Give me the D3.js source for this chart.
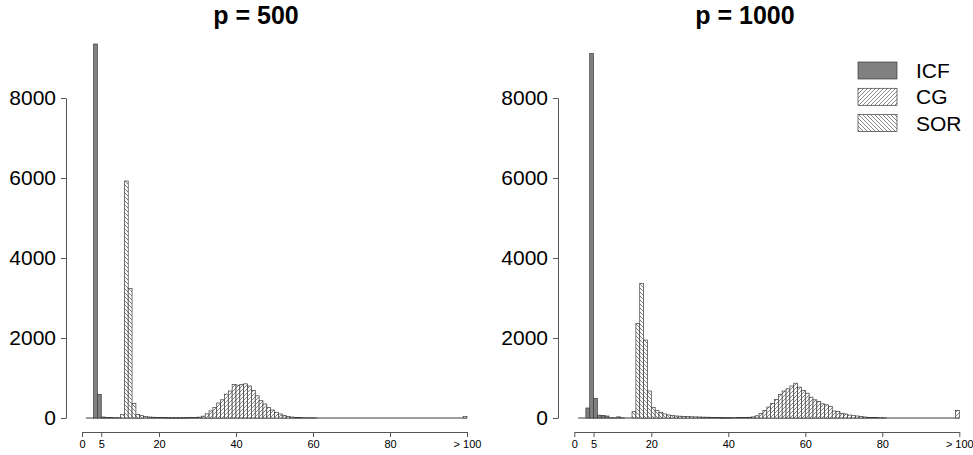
<!DOCTYPE html>
<html><head><meta charset="utf-8">
<script src="https://cdn.jsdelivr.net/npm/d3@7"></script>
<style>body{margin:0;background:#fff;}svg{display:block;font-family:"Liberation Sans",Arial,sans-serif;}</style>
</head><body>
<svg id="chart" width="973" height="455"></svg>
<script>
// ---- data (counts per iteration bin [k, k+1]) ----
const panelTitles = ["p = 500", "p = 1000"];
const seriesNames = ["ICF", "CG", "SOR"];
const xTickValues = [0, 5, 20, 40, 60, 80, 100];
const xTickLabels = ["0", "5", "20", "40", "60", "80", "> 100"];
const yTickValues = [0, 2000, 4000, 6000, 8000];

const icf500Start = 3;
const icf500 = [9350, 592, 25, 15, 10, 6, 4];
const sor500Start = 10;
const sor500 = [83, 5925, 3242, 367, 92, 58, 35, 25, 20, 15, 12, 10, 8, 6, 5, 4, 3];
const cg500Start = 22;
const cg500 = [4, 5, 6, 7, 8, 10, 12, 15, 22, 46, 104, 178, 265, 375, 455, 596, 675, 837, 820, 837, 854, 800, 687, 555, 433, 350, 267, 200, 142, 100, 67, 42, 25, 15, 10, 7, 5, 4, 3];
const over500 = 40;

const icf1000Start = 3;
const icf1000 = [250, 9110, 490, 70, 65, 50, 5, 3, 28, 4];
const sor1000Start = 15;
const sor1000 = [158, 2367, 3367, 1950, 675, 267, 183, 142, 100, 75, 60, 50, 45, 40, 35, 30, 28, 25, 22, 20, 18, 15, 12, 10, 8, 6];
const cg1000Start = 38;
const cg1000 = [5, 6, 7, 8, 9, 10, 12, 18, 28, 55, 112, 188, 275, 365, 460, 590, 675, 730, 800, 870, 770, 690, 620, 520, 455, 415, 355, 330, 285, 175, 165, 118, 100, 75, 58, 50, 35, 25, 15, 12, 10, 6, 4];
const over1000 = 190;
const overBin = 99;

// ---- drawing ----
const svg = d3.select("#chart");
const defs = svg.append("defs");
function hatch(id, dir) {
  const p = defs.append("pattern").attr("id", id).attr("patternUnits", "userSpaceOnUse")
    .attr("width", 4).attr("height", 4);
  p.append("rect").attr("width", 4).attr("height", 4).attr("fill", "#fff");
  const segs = dir === "/" ? [[0,4,4,0],[-1,1,1,-1],[3,5,5,3]] : [[0,0,4,4],[-1,3,1,5],[3,-1,5,1]];
  segs.forEach(s => p.append("line").attr("x1", s[0]).attr("y1", s[1]).attr("x2", s[2]).attr("y2", s[3])
    .attr("stroke", "#555").attr("stroke-width", 0.7));
}
hatch("hCG", "/");
hatch("hSOR", "\\");
const fills = {ICF: "#808080", CG: "url(#hCG)", SOR: "url(#hSOR)"};
const strokeCol = "#3a3a3a";

const y = d3.scaleLinear().domain([0, 8000]).range([418, 98]);

const panels = [
  {title: panelTitles[0], titleX: 256, yAxisX: 66, range: [82, 467],
   series: [["ICF", icf500Start, icf500], ["SOR", sor500Start, sor500], ["CG", cg500Start, cg500], ["CG", overBin, [over500]]]},
  {title: panelTitles[1], titleX: 745, yAxisX: 558, range: [574.3, 959.3],
   series: [["ICF", icf1000Start, icf1000], ["SOR", sor1000Start, sor1000], ["CG", cg1000Start, cg1000], ["CG", overBin, [over1000]]]}
];

panels.forEach(pn => {
  const x = d3.scaleLinear().domain([0, 100]).range(pn.range);
  const g = svg.append("g");

  // baseline
  g.append("line").attr("x1", x(1)).attr("x2", x(100)).attr("y1", y(0)).attr("y2", y(0))
    .attr("stroke", strokeCol).attr("stroke-width", 1);

  pn.series.forEach(([name, start, counts]) => {
    const data = counts.map((c, i) => ({b: start + i, c}));
    g.append("g").selectAll("rect").data(data).join("rect")
      .attr("x", d => x(d.b))
      .attr("width", d => x(d.b + 1) - x(d.b))
      .attr("y", d => y(d.c))
      .attr("height", d => y(0) - y(d.c))
      .attr("fill", fills[name])
      .attr("stroke", strokeCol)
      .attr("stroke-width", 0.7);
  });

  // y axis
  const ya = g.append("g").attr("transform", `translate(${pn.yAxisX},0)`)
    .call(d3.axisLeft(y).tickValues(yTickValues).tickSize(5).tickSizeOuter(0).tickPadding(5).tickFormat(d3.format("d")));
  ya.select(".domain").attr("stroke", "#555");
  ya.selectAll(".tick line").attr("stroke", "#555");
  ya.selectAll("text").attr("font-size", 21).attr("fill", "#000").attr("font-family", "Liberation Sans, Arial, sans-serif");

  // x axis
  const xa = g.append("g").attr("transform", "translate(0,432)")
    .call(d3.axisBottom(x).tickValues(xTickValues).tickSize(5).tickSizeOuter(0).tickPadding(3)
      .tickFormat((d, i) => xTickLabels[i]));
  xa.select(".domain").attr("stroke", "#555");
  xa.selectAll(".tick line").attr("stroke", "#555");
  xa.selectAll("text").attr("font-size", 11).attr("fill", "#000").attr("font-family", "Liberation Sans, Arial, sans-serif");

  // title
  svg.append("text").attr("x", pn.titleX).attr("y", 24).attr("text-anchor", "middle")
    .attr("font-size", 25).attr("font-weight", "bold").text(pn.title);
});

// legend
const leg = svg.append("g");
seriesNames.forEach((n, i) => {
  const yy = 62 + i * 26.3;
  leg.append("rect").attr("x", 858).attr("y", yy).attr("width", 39).attr("height", 17)
    .attr("fill", fills[n]).attr("stroke", strokeCol).attr("stroke-width", 0.7);
  leg.append("text").attr("x", 916).attr("y", yy + 16).attr("font-size", 21).text(n);
});
</script>
</body></html>
